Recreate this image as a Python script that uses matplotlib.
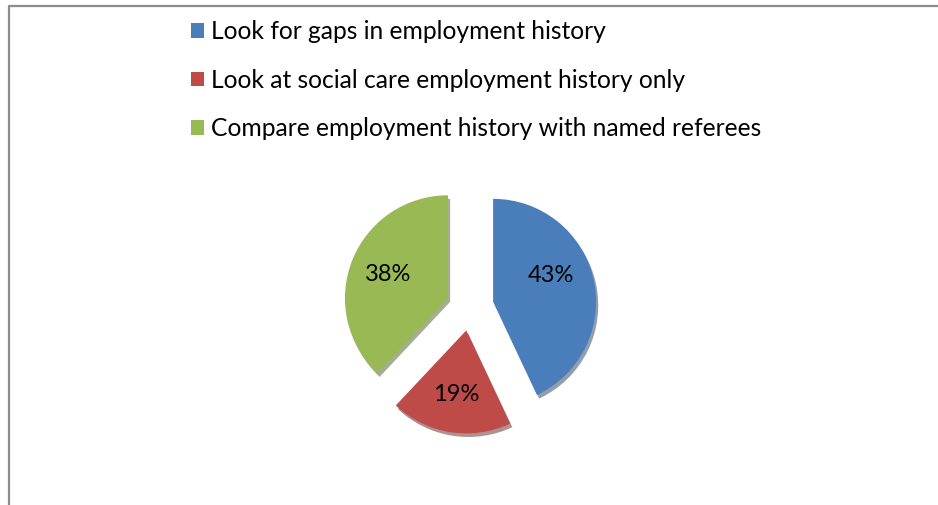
import matplotlib.pyplot as plt
from matplotlib.lines import Line2D

labels = ["Look for gaps in employment history",
          "Look at social care employment history only",
          "Compare employment history with named referees"]
shares = [43, 19, 38]
colors = ["#4A7EBB", "#BE4B48", "#98B954"]

plt.rcParams['font.family'] = ['Lato', 'DejaVu Sans']

W, H = 938, 505
fig = plt.figure(figsize=(W / 100, H / 100), dpi=100)

# chart frame (left and top edges visible)
fig.add_artist(Line2D([9 / W, 9 / W, 1.0], [0.0, 1 - 6 / H, 1 - 6 / H],
                      transform=fig.transFigure, color="#8C8C8C", lw=1.6))

# pie axes: centre ~ (470, 307) px, radius ~103 px
size = 300
ax = fig.add_axes([(470 - size / 2) / W, (H - 307 - size / 2) / H, size / W, size / H])
lim = size / 2 / 103

wedges, texts, autotexts = ax.pie(
    shares, colors=colors, startangle=90, counterclock=False,
    explode=[0.23] * 3, autopct='%d%%', pctdistance=0.63,
    shadow={'ox': 0.015, 'oy': -0.025, 'shade': 0.5},
    wedgeprops=dict(linewidth=0), textprops=dict(fontsize=17, color='black'),
    radius=1.0)
ax.set_xlim(-lim, lim)
ax.set_ylim(-lim, lim)
ax.set_aspect('equal')
ax.axis('off')

# Excel places the first label a little higher than the mid-angle
x, y = autotexts[0].get_position()
autotexts[0].set_position((x - 0.05, y + 0.12))

fig.legend(wedges, labels, loc='upper left', bbox_to_anchor=(181 / W, 1 - 10 / H),
           frameon=False, fontsize=17.7, handlelength=0.55, handleheight=0.55,
           handletextpad=0.25, labelspacing=1.05, borderaxespad=0)

fig.savefig("out.png", dpi=100)
